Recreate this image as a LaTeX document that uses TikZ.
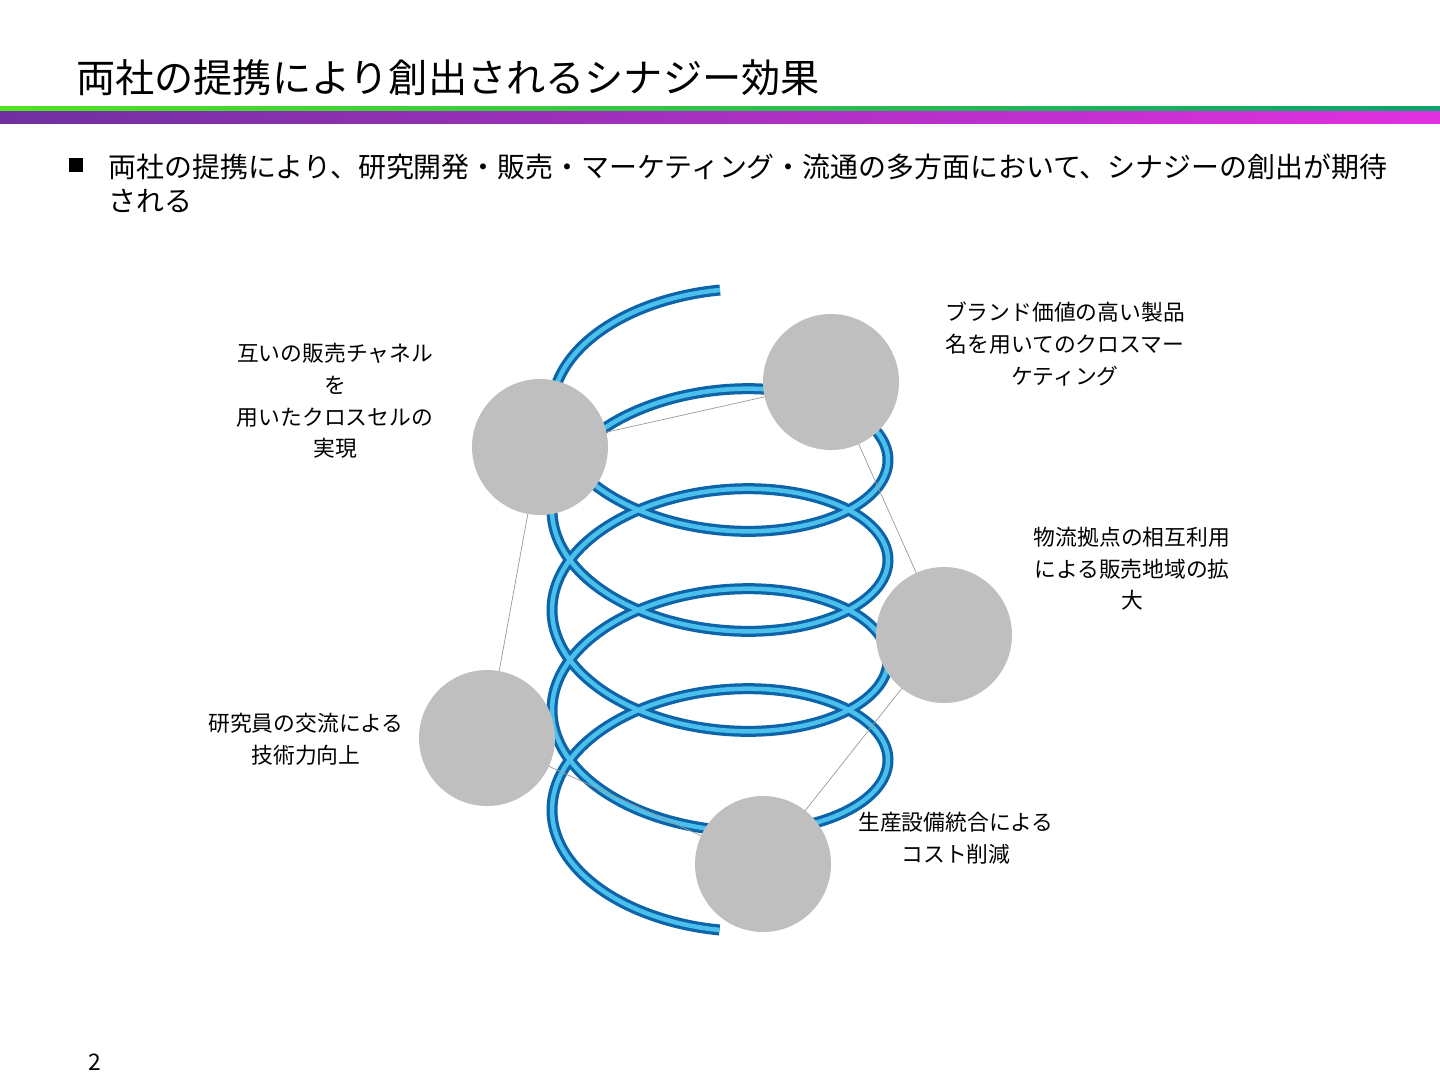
\documentclass[tikz,border=0pt]{standalone}
\usepackage{fontspec}
\setmainfont{Noto Sans CJK JP}
\usetikzlibrary{positioning}
\definecolor{discgray}{HTML}{BFBFBF}
\definecolor{coildark}{HTML}{0E64A8}
\definecolor{coillight}{HTML}{4CC0EC}
\tikzset{
  disc/.style={circle, fill=discgray, minimum size=136*0.02cm, inner sep=0pt},
  label/.style={align=center, font=\fontsize{12.4}{18}\selectfont},
  link/.style={draw=discgray!80!black, line width=0.4pt}
}
\begin{document}
\begin{tikzpicture}[x=0.02cm, y=-0.02cm]
      \useasboundingbox (0,0) rectangle (1440,1080);

      % Title and bars
      \node[anchor=west, font=\fontsize{22.3}{26}\selectfont] (title) at (70,78) {両社の提携により創出されるシナジー効果};
      \shade[left color={rgb,255:red,80;green,228;blue,32}, right color={rgb,255:red,16;green,160;blue,112}] (0,106) rectangle (1440,111);
      \shade[left color={rgb,255:red,112;green,48;blue,160}, right color={rgb,255:red,224;green,48;blue,224}] (0,111) rectangle (1440,123);

      % Bullet
      \fill (69,158) rectangle (83,172);
      \node[anchor=north west, align=left, inner sep=0pt, font=\fontsize{15.9}{19}\selectfont] (bullet) at (108,154)
           {両社の提携により、研究開発・販売・マーケティング・流通の多方面において、シナジーの創出が期待\\される};

      % Coil
      \foreach \w/\c in {11/coildark, 4.5/coillight}
        \draw[\c, line width=\w*0.02cm, domain=0:9*pi, samples=500, smooth, variable=\t]
          plot ({720-168*sin(\t r)}, {385+100*\t/(2*pi)-95*cos(\t r)});

      % Links
      \coordinate (pA) at (540,447);
      \coordinate (pB) at (831,382);
      \coordinate (pC) at (944,635);
      \coordinate (pD) at (763,864);
      \coordinate (pE) at (487,738);
      \draw[link] (pA) -- (pB) -- (pC) -- (pD) -- (pE) -- (pA);

      % Discs
      \node[disc] (cross)   at (pA) {};
      \node[disc] (brand)   at (pB) {};
      \node[disc] (logis)   at (pC) {};
      \node[disc] (cost)    at (pD) {};
      \node[disc] (research) at (pE) {};

      % Labels
      \node[label] (lcross) at (335,401) {互いの販売チャネル\\を\\用いたクロスセルの\\実現};
      \node[label] (lbrand) at (1065,344) {ブランド価値の高い製品\\名を用いてのクロスマー\\ケティング};
      \node[label] (llogis) at (1132,569) {物流拠点の相互利用\\による販売地域の拡\\大};
      \node[label] (lresearch) at (306,739) {研究員の交流による\\技術力向上};
      \node[label] (lcost) at (956,838) {生産設備統合による\\コスト削減};

      % Page number
      \node[font=\fontsize{13}{16}\selectfont] (page) at (95,1062) {2};
\end{tikzpicture}
\end{document}
